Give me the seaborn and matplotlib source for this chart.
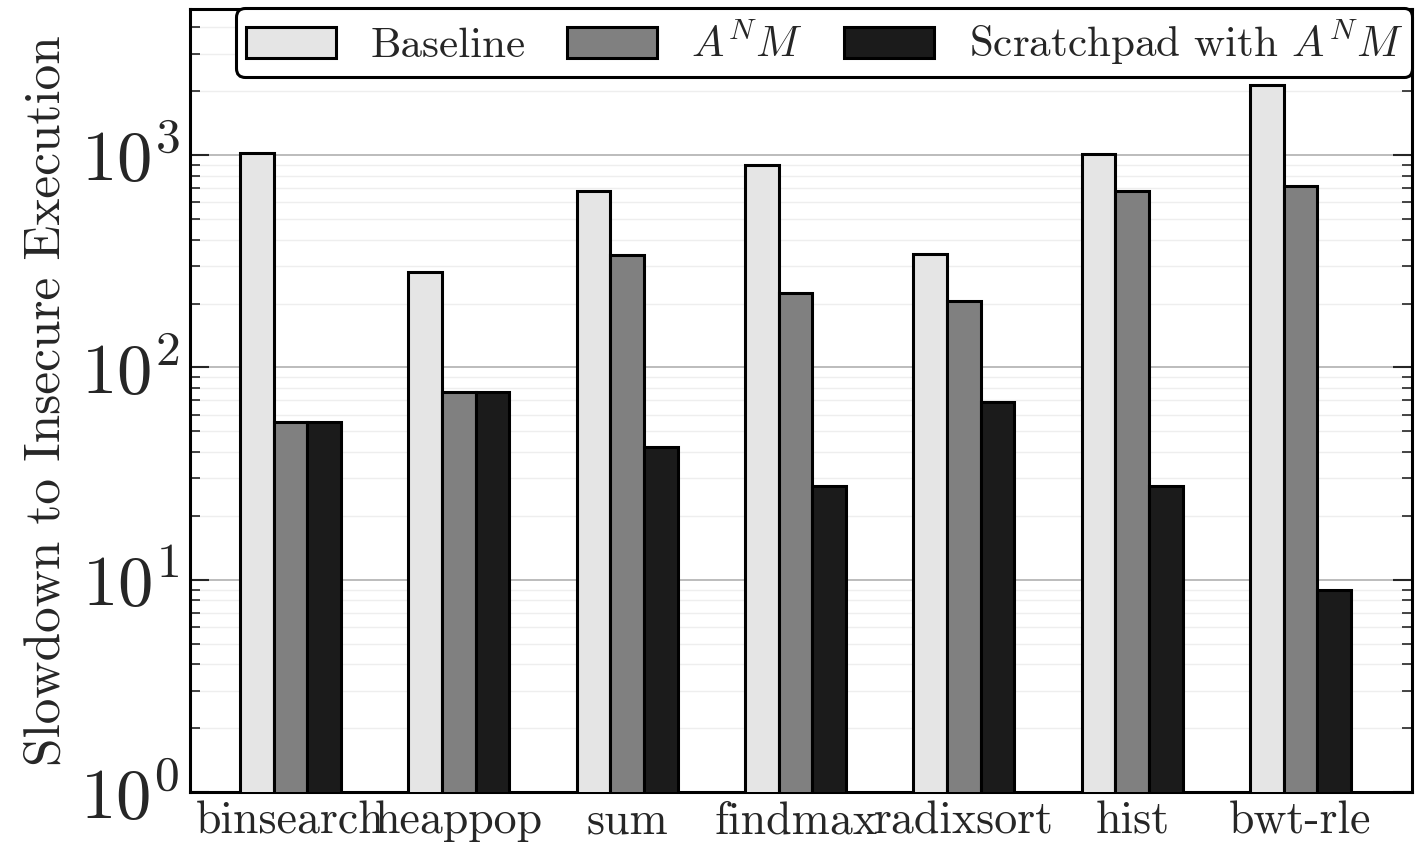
import matplotlib
matplotlib.use('Agg')
import matplotlib.pyplot as plt
import numpy as np
import pandas as pd
import seaborn as sns
from matplotlib.ticker import LogLocator, NullFormatter

benchmarks = ['binsearch', 'heappop', 'sum', 'findmax', 'radixsort', 'hist', 'bwt-rle']
configs = ['Baseline', r'$A^N M$', r'Scratchpad with $A^N M$']
baseline = [1020, 280, 676, 897, 341, 1010, 2140]
anm = [55.6, 77, 337, 223, 205, 676, 714]
scratchpad = [55.6, 77, 42, 27.8, 68.4, 27.8, 9.0]
colors = ['#e5e5e5', '#808080', '#1b1b1b']

df = pd.DataFrame({
    'benchmark': benchmarks * 3,
    'config': [c for c in configs for _ in benchmarks],
    'slowdown': baseline + anm + scratchpad,
})

sns.set_style('white')
plt.rcParams['font.family'] = ['cmr10', 'DejaVu Serif']
plt.rcParams['mathtext.fontset'] = 'cm'
plt.rcParams['axes.formatter.use_mathtext'] = True

fig, ax = plt.subplots(figsize=(14.21, 8.5), dpi=100)
fig.subplots_adjust(left=0.134, right=0.994, top=0.99, bottom=0.068)

sns.barplot(data=df, x='benchmark', y='slowdown', hue='config', order=benchmarks,
            hue_order=configs, palette=colors, width=0.6, edgecolor='black',
            linewidth=2.2, saturation=1, ax=ax, zorder=3)

ax.set_yscale('log')
ax.set_ylim(1, 4900)
ax.set_xlim(-0.595, 6.665)
ax.yaxis.set_major_locator(LogLocator(base=10, numticks=10))
ax.yaxis.set_minor_locator(LogLocator(base=10, subs=np.arange(2, 10), numticks=10))
ax.yaxis.set_minor_formatter(NullFormatter())
ax.grid(axis='y', which='major', color='#b0b0b0', linewidth=1.2, zorder=0)
ax.grid(axis='y', which='minor', color='#eeeeee', linewidth=1.0, zorder=0)
ax.set_axisbelow(True)

ax.tick_params(axis='y', which='major', direction='in', length=14, width=1.5,
               left=True, right=True, labelsize=51, pad=8)
ax.tick_params(axis='y', which='minor', direction='in', length=7, width=1.2,
               left=True, right=True)
ax.tick_params(axis='x', length=0, labelsize=33, pad=6)
for s in ax.spines.values():
    s.set_linewidth(2.2)
    s.set_color('black')

ax.set_xlabel('')
ax.set_ylabel('Slowdown to Insecure Execution', fontsize=37, labelpad=8)

leg = ax.legend(loc='upper right', ncol=3, fontsize=31, frameon=True, fancybox=True,
                framealpha=1, edgecolor='black', handlelength=2.1, handleheight=0.75,
                columnspacing=0.95, handletextpad=0.8, borderaxespad=0.0,
                borderpad=0.22)
leg.get_frame().set_linewidth(2.2)

fig.savefig('out.png', dpi=100)
